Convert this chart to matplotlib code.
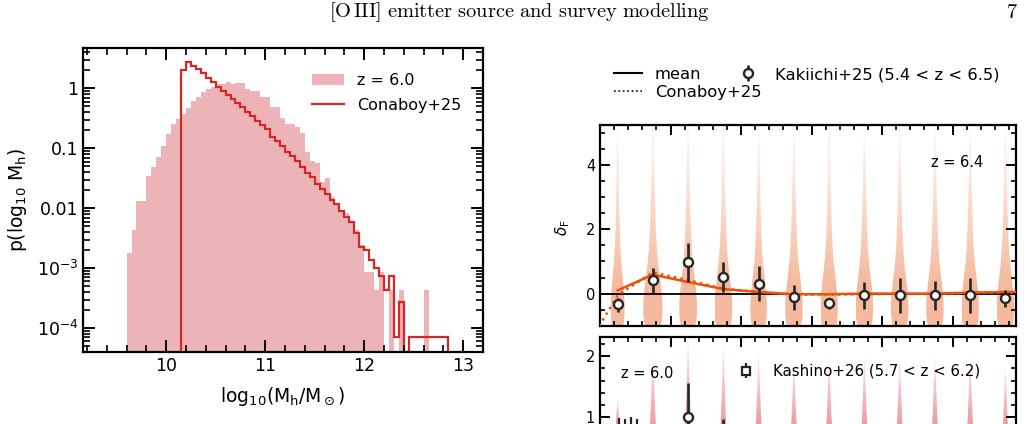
import matplotlib
matplotlib.use('Agg')
import matplotlib.pyplot as plt
import numpy as np
from matplotlib.patches import Polygon
from matplotlib.lines import Line2D
from matplotlib.ticker import MultipleLocator, FixedLocator, LogLocator, NullFormatter

# ---------------- data: left panel (halo mass pdf, 0.05 dex bins) ----------------
bin_w = 0.05
sim_edge0 = 9.60
# log10 p per bin, starting at 9.60 (None = empty bin)
sim_logp = [-2.75, -2.36, -1.88, -1.88, -1.47, -1.31, -1.14, -0.96, -0.77, -0.60,
            -0.51, -0.43, -0.33, -0.21, -0.14, -0.07, -0.02, 0.03, 0.07, 0.08,
            0.10, 0.08, 0.09, 0.09, -0.02, -0.04, -0.04, -0.14, -0.14, -0.32,
            -0.32, -0.50, -0.60, -0.60, -0.65, -0.74, -1.06, -1.22, -1.25, -1.57,
            -1.50, -1.81, -1.95, -2.04, -2.08, -2.22, -2.36, -2.61, -3.06, -3.06,
            -3.36, -3.06, None, -3.36, None, -3.36, None, None, None, None,
            -3.36]
con_edge0 = 10.15
con_logp = [0.30, 0.44, 0.38, 0.32, 0.25, 0.18, 0.10, 0.03, -0.05, -0.11,
            -0.18, -0.25, -0.32, -0.40, -0.47, -0.55, -0.62, -0.68, -0.81, -0.88,
            -0.97, -1.06, -1.13, -1.22, -1.32, -1.41, -1.48, -1.60, -1.68, -1.76,
            -1.86, -1.93, -2.04, -2.15, -2.23, -2.41, -2.65, -2.70, -2.87, -3.00,
            -3.13, -3.37, -3.13, -4.15, -3.57, None, -4.15, -4.15, -4.15, -4.15,
            -4.15, -4.15, -4.15, -4.15]

# ---------------- data: right panels ----------------
kak_x = [2.5, 7.5, 12.5, 17.5, 22.5, 27.5, 32.5, 37.5, 42.5, 47.5, 52.5, 57.5]
kak_y = [-0.31, 0.42, 0.99, 0.52, 0.31, -0.10, -0.28, -0.03, -0.05, -0.05, -0.05, -0.14]
kak_lo = [-0.57, 0.02, 0.36, 0.05, -0.24, -0.52, -0.47, -0.47, -0.60, -0.52, -0.60, -0.42]
kak_hi = [-0.14, 0.81, 1.56, 0.97, 0.85, 0.28, -0.16, 0.36, 0.47, 0.39, 0.47, 0.12]

mean_x = [2.5, 7.5, 12.5, 17.5, 22.5, 27.5, 32.5, 37.5, 42.5, 47.5, 52.5, 57.5, 60.0]
mean_y = [0.10, 0.59, 0.36, 0.14, 0.05, -0.02, -0.02, 0.0, 0.0, 0.0, 0.03, 0.05, 0.05]
cona_x = [-2.5, 2.5, 7.5, 12.5, 17.5, 22.5, 27.5, 32.5, 37.5, 42.5, 47.5, 52.5, 57.5, 60.0]
cona_y = [-1.9, -0.05, 0.66, 0.42, 0.15, 0.05, -0.03, -0.03, -0.02, -0.01, -0.01, 0.02, 0.04, 0.04]

# violin outline (shared shape, half width in pixels) for z = 6.4
viol_y = [-1.0, -0.9, -0.6, -0.3, 0.0, 0.5, 1.0, 1.5, 2.0, 3.0, 4.0, 5.0, 5.5]
viol_hw = [7.0, 8.8, 9.6, 9.6, 9.0, 7.0, 5.0, 3.8, 3.0, 2.0, 1.4, 0.9, 0.3]
viol_scale = [0.72, 1.0, 0.92, 0.92, 0.85, 0.9, 0.9, 0.9, 0.9, 0.9, 0.9, 0.9]

# z = 6.0 violins (only the spikes show)
pink_y = [-1.0, -0.5, 0.0, 0.5, 1.0]
pink_hw = [7.0, 8.0, 6.5, 4.3, 2.6]
pink_tip = [1.28, 2.05, 2.35, 2.22, 2.08, 1.92, 2.03, 2.03, 2.00, 2.03, 2.05, 1.83]
pink_scale = [0.55, 1.0, 1.0, 0.95, 0.95, 0.9, 0.92, 0.92, 0.92, 0.92, 0.92, 0.8]

kas_x = [2.7, 3.5, 4.4, 5.3]
kas_y = [0.45, 0.40, 0.50, 0.45]
kas_lo = [0.15, 0.10, 0.20, 0.15]
kas_hi = [0.98, 0.96, 0.99, 0.97]

W, H = 1029, 424
fig = plt.figure(figsize=(W / 100, H / 100), dpi=100)

pink = (0.925, 0.706, 0.718)
red = '#d62728'
orange = '#e6550d'
viol_rgb = (0.961, 0.733, 0.620)
spike_rgb = (0.925, 0.62, 0.64)
dark = '#262626'


def px_box(x0, y0, x1, y1):
    return [x0 / W, 1 - y1 / H, (x1 - x0) / W, (y1 - y0) / H]


def style_ticks(ax, size, maj=(8.5, 1.4), mnr=(5, 1.2)):
    ax.tick_params(which='both', direction='in', top=True, right=True)
    ax.tick_params(which='major', length=maj[0], width=maj[1], labelsize=size)
    ax.tick_params(which='minor', length=mnr[0], width=mnr[1])
    for s in ax.spines.values():
        s.set_linewidth(1.6)


# ---------------- left panel ----------------
ax = fig.add_axes(px_box(83, 48, 483, 352))
edges = sim_edge0 + bin_w * np.arange(len(sim_logp))
heights = [0 if v is None else 10 ** v for v in sim_logp]
h_sim = ax.bar(edges, heights, width=bin_w, align='edge', color=pink, linewidth=0)
cedges = con_edge0 + bin_w * np.arange(len(con_logp) + 1)
cvals = [1e-12 if v is None else 10 ** v for v in con_logp]
ax.stairs(cvals, cedges, baseline=1e-12, color=red, lw=1.6)
h_con = Line2D([], [], color=red, lw=1.6)
ax.set_yscale('log')
ax.set_xlim(9.16, 13.2)
ax.set_ylim(4.0e-5, 4.7)
ax.xaxis.set_major_locator(MultipleLocator(1))
ax.xaxis.set_minor_locator(MultipleLocator(0.2))
ax.yaxis.set_major_locator(FixedLocator([1e-4, 1e-3, 1e-2, 1e-1, 1]))
ax.set_yticklabels(['$10^{-4}$', '$10^{-3}$', '0.01', '0.1', '1'])
ax.yaxis.set_minor_locator(LogLocator(base=10, subs=np.arange(2, 10), numticks=20))
ax.yaxis.set_minor_formatter(NullFormatter())
style_ticks(ax, 12.5)
ax.set_xlabel(r'log$_{10}$(M$_{\rm h}$/M$_\odot$)', fontsize=13.5)
ax.set_ylabel(r'p(log$_{10}$ M$_{\rm h}$)', fontsize=13.5)
ax.xaxis.set_label_coords(0.5, -0.11)
ax.yaxis.set_label_coords(-0.135, 0.5)
ax.legend([h_sim, h_con], ['z = 6.0', 'Conaboy+25'], loc='upper left',
          bbox_to_anchor=((312 - 83) / 400, (352 - 73) / 304),
          frameon=False, fontsize=11.5, borderpad=0, borderaxespad=0, handletextpad=0.8,
          labelspacing=0.6)


# ---------------- right panels ----------------
def draw_violin(ax, x0, ys, hws, rgb, fade_lo, fade_hi, amin=0.0):
    ys = np.asarray(ys, float)
    hws = np.asarray(hws, float) * (59.0 / 416)
    verts = np.concatenate([np.column_stack([x0 - hws, ys]),
                            np.column_stack([x0 + hws[::-1], ys[::-1]])])
    poly = Polygon(verts, closed=True, facecolor='none', edgecolor='none')
    ax.add_patch(poly)
    grid = np.linspace(ys.min(), ys.max(), 300)
    alpha = np.clip((fade_hi - grid) / (fade_hi - fade_lo), 0, 1) * (1 - amin) + amin
    img = np.zeros((len(grid), 1, 4))
    img[..., :3] = rgb
    img[:, 0, 3] = alpha
    im = ax.imshow(img, extent=[x0 - hws.max(), x0 + hws.max(), ys.min(), ys.max()],
                   origin='lower', aspect='auto', interpolation='bilinear', zorder=1)
    im.set_clip_path(poly)


def kak_points(ax):
    yerr = [np.subtract(kak_y, kak_lo), np.subtract(kak_hi, kak_y)]
    return ax.errorbar(kak_x, kak_y, yerr=yerr, fmt='o', color=dark, ms=6.5, mfc='white',
                       mec=dark, mew=1.7, elinewidth=1.9, capsize=0, zorder=6)


ax1 = fig.add_axes(px_box(600, 125, 1016, 325.7))
for x0, sc in zip(kak_x, viol_scale):
    draw_violin(ax1, x0, viol_y, np.array(viol_hw) * sc, viol_rgb, 0.3, 5.6)
ax1.axhline(0, color='black', lw=1.3, zorder=3)
ax1.plot(mean_x, mean_y, color=orange, lw=1.8, zorder=4)
ax1.plot(cona_x, cona_y, color=orange, lw=1.8, ls=':', zorder=4)
eb = kak_points(ax1)
ax1.set_xlim(0, 59)
ax1.set_ylim(-1.0, 5.25)
ax1.xaxis.set_major_locator(MultipleLocator(10))
ax1.xaxis.set_minor_locator(MultipleLocator(2))
ax1.yaxis.set_major_locator(MultipleLocator(2))
ax1.yaxis.set_minor_locator(MultipleLocator(0.5))
style_ticks(ax1, 10.5, maj=(7, 1.4), mnr=(3.6, 1.2))
ax1.tick_params(labelbottom=False)
ax1.text(0.795, 0.815, 'z = 6.4', transform=ax1.transAxes, fontsize=10.5, va='center')
fig.text(563 / W, 1 - 228 / H, r'$\delta_{\rm F}$', rotation=90, fontsize=11,
         ha='center', va='center')

ax2 = fig.add_axes(px_box(600, 337, 1016, 537.7))
for x0, tip, sc in zip(kak_x, pink_tip, pink_scale):
    draw_violin(ax2, x0, pink_y + [tip], np.array(pink_hw + [0.0]) * sc, spike_rgb,
                0.9, tip + 0.25)
ax2.axhline(0, color='black', lw=1.3, zorder=3)
kak_points(ax2)
kas = ax2.errorbar(kas_x, kas_y, yerr=[np.subtract(kas_y, kas_lo), np.subtract(kas_hi, kas_y)],
                   fmt='s', color=dark, ms=6, mfc='white', mec=dark, mew=1.6,
                   elinewidth=1.6, capsize=0, zorder=5)
ax2.set_xlim(0, 59)
ax2.set_ylim(-1.0, 2.32)
ax2.xaxis.set_major_locator(MultipleLocator(10))
ax2.xaxis.set_minor_locator(MultipleLocator(2))
ax2.yaxis.set_major_locator(FixedLocator([1, 2]))
ax2.yaxis.set_minor_locator(MultipleLocator(0.2))
style_ticks(ax2, 10.5, maj=(7, 1.4), mnr=(3.6, 1.2))
ax2.tick_params(labelbottom=False)
fig.text(621 / W, 1 - 373 / H, 'z = 6.0', fontsize=10.5, va='center')
ax2.legend([kas], ['Kashino+26 (5.7 < z < 6.2)'], loc='upper left',
           bbox_to_anchor=(731 / W, 1 - 364 / H), bbox_transform=fig.transFigure,
           frameon=False, fontsize=10.8, borderpad=0, borderaxespad=0, handletextpad=0.8)

# figure legends above the right panels
h_mean = Line2D([], [], color='black', lw=1.5)
h_cona = Line2D([], [], color='black', lw=1.2, ls=':')
fig.legend([h_mean, eb], ['mean', 'Kakiichi+25 (5.4 < z < 6.5)'], ncol=2, loc='upper left',
           bbox_to_anchor=(614 / W, 1 - 67 / H), frameon=False, fontsize=11.8,
           borderpad=0, borderaxespad=0, handlelength=1.7, handletextpad=0.8, columnspacing=2.0)
fig.legend([h_cona], ['Conaboy+25'], loc='upper left',
           bbox_to_anchor=(614 / W, 1 - 85 / H), frameon=False, fontsize=11.8,
           borderpad=0, borderaxespad=0, handlelength=1.7, handletextpad=0.8)

# page header
fig.text(519 / W, 1 - 12 / H, r'$\mathrm{[O\,III]\ emitter\ source\ and\ survey\ modelling}$',
         ha='center', va='center', fontsize=14.7, math_fontfamily='cm')
fig.text(1012 / W, 1 - 12 / H, r'$\mathrm{7}$', ha='center', va='center', fontsize=14.7,
         math_fontfamily='cm')

fig.savefig('out.png', dpi=100)
